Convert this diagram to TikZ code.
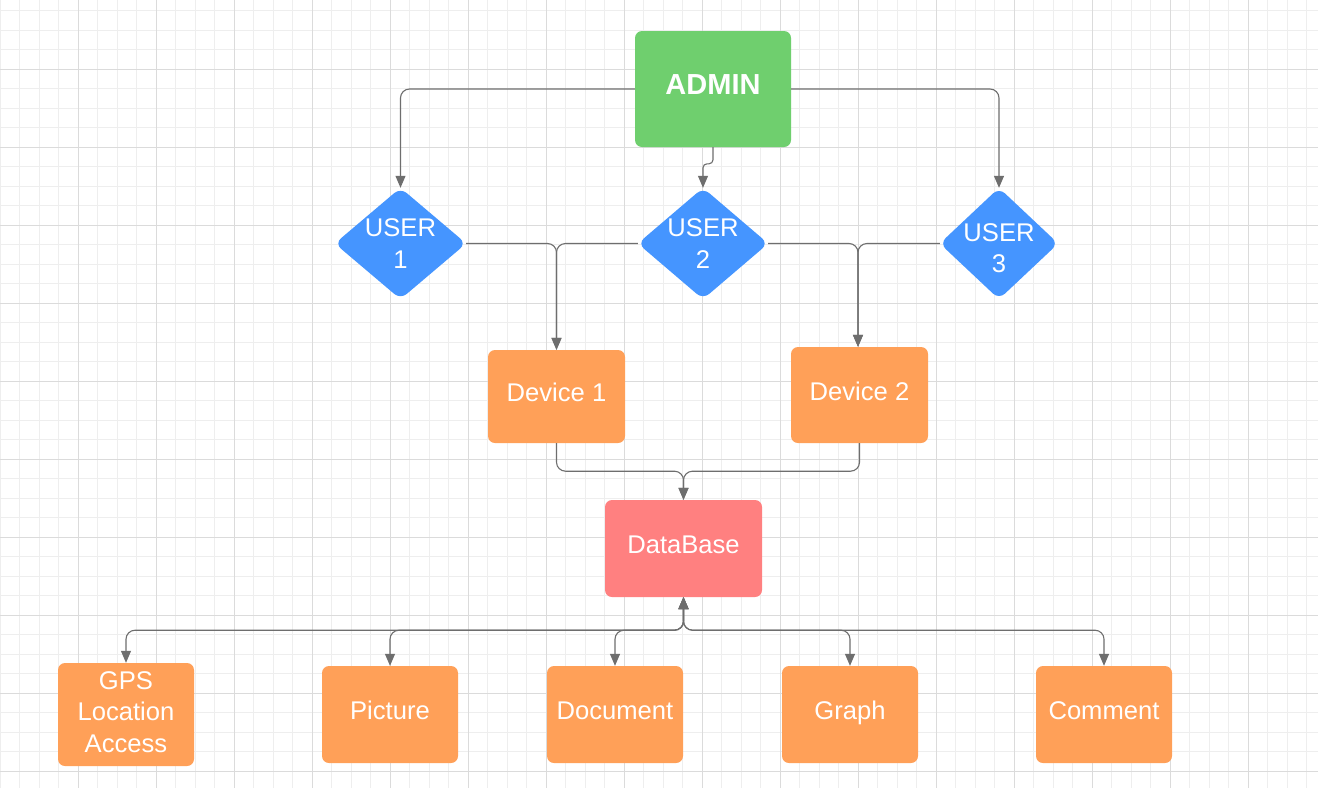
\documentclass[tikz,border=0pt]{standalone}
\usepackage{fontspec}
\setmainfont{Liberation Sans}
\usetikzlibrary{arrows.meta,backgrounds}
\definecolor{gminor}{HTML}{EEEEEE}
\definecolor{gmajor}{HTML}{DBDBDB}
\definecolor{cgreen}{HTML}{6FCF6E}
\definecolor{cblue}{HTML}{4595FF}
\definecolor{corange}{HTML}{FFA058}
\definecolor{cred}{HTML}{FF8080}
\definecolor{cline}{HTML}{6E6E6E}
\newcommand\liftlines[2]{\raisebox{#1}[0pt][0pt]{\begin{tabular}{@{}c@{}}#2\end{tabular}}}
\tikzset{
  box/.style={rounded corners=7pt, inner sep=0pt, text=white, align=center,
    font=\fontsize{25.6}{31.5}\selectfont},
  lbl/.style={text height=14pt, text depth=4pt},
  orangebox/.style={box, fill=corange, minimum width=137pt},
  userd/.style={inner sep=0pt, text=white, align=center, minimum height=111pt,
    font=\fontsize{25.6}{31.5}\selectfont},
  conn/.style={draw=cline, line width=1.1pt, rounded corners=9pt,
    -{Triangle[length=12pt,width=10pt]}},
  bconn/.style={conn, {Triangle[length=12pt,width=10pt]}-{Triangle[length=12pt,width=10pt]}}
}
\begin{document}
\begin{tikzpicture}[x=1pt,y=-1pt]
\useasboundingbox (0,0) rectangle (1318,788);
\begin{scope}[on background layer]
  \fill[white] (0,0) rectangle (1318,788);
  \foreach \i in {0,...,68} \draw[gminor, line width=0.9pt] ({0.3+19.5*\i},0) -- ++(0,788);
  \foreach \i in {0,...,40} \draw[gminor, line width=0.9pt] (0,{10.8+19.5*\i}) -- ++(1318,0);
  \foreach \i in {1,...,16} \draw[gmajor, line width=1pt] ({0.3+78*\i},0) -- ++(0,788);
  \foreach \i in {1,...,10} \draw[gmajor, line width=1pt] (0,{-8.7+78*\i}) -- ++(1318,0);
\end{scope}

% nodes
\node[box, fill=cgreen, minimum width=156pt, minimum height=116pt,
  font=\bfseries\fontsize{29}{30}\selectfont] (admin) at (713,89) {\raisebox{-5.4pt}[0pt][0pt]{ADMIN}};

\node[userd, minimum width=131pt] (u1) at (400.5,243.5) {USER\\1};
\node[userd, minimum width=130pt] (u2) at (703,243.5) {USER\\2};
\node[userd, minimum width=118pt] (u3) at (999,243.5) {\liftlines{-13.3pt}{USER\\3}};
\begin{scope}[on background layer]
  \foreach \u in {u1,u2,u3}
    \fill[cblue, rounded corners=8pt] (\u.north) -- (\u.east) -- (\u.south) -- (\u.west) -- cycle;
\end{scope}

\node[orangebox, lbl, minimum height=93pt] (d1) at (556.5,396.5) {Device 1};
\node[orangebox, lbl, minimum height=96pt] (d2) at (859.5,395) {Device 2};
\node[box, lbl, fill=cred, minimum width=157pt, minimum height=97pt] (db) at (683.5,548.5) {DataBase};

\node[orangebox, minimum width=136pt, minimum height=103pt] (gps) at (126,714.5) {\liftlines{-6.3pt}{GPS\\Location\\Access}};
\node[orangebox, lbl, minimum width=136pt, minimum height=97pt] (pic) at (390,714.5) {Picture};
\node[orangebox, lbl, minimum width=136pt, minimum height=97pt] (doc) at (615,714.5) {Document};
\node[orangebox, lbl, minimum width=136pt, minimum height=97pt] (graph) at (850,714.5) {Graph};
\node[orangebox, lbl, minimum width=136pt, minimum height=97pt] (comm) at (1104,714.5) {Comment};

% connectors
\draw[conn] (admin.west) -| (u1.north);
\draw[conn] (admin.east) -| (u3.north);
\draw[conn, rounded corners=4pt] (admin.south) |- ([yshift=24pt]u2.north) -- (u2.north);

\draw[conn] (u1.east) -| (d1.north);
\draw[conn] (u2.west) -| (d1.north);
\draw[conn] (u2.east) -| ([xshift=-1.5pt]d2.north);
\draw[conn] (u3.west) -| ([xshift=-1.5pt]d2.north);

\draw[conn] (d1.south) -- ++(0,28) -| (db.north);
\draw[conn] (d2.south) -- ++(0,28) -| (db.north);

\draw[bconn] (db.south) -- ++(0,33) -| (gps.north);
\draw[bconn] (db.south) -- ++(0,33) -| (pic.north);
\draw[bconn] (db.south) -- ++(0,33) -| (doc.north);
\draw[bconn] (db.south) -- ++(0,33) -| (graph.north);
\draw[bconn] (db.south) -- ++(0,33) -| (comm.north);
\end{tikzpicture}
\end{document}
